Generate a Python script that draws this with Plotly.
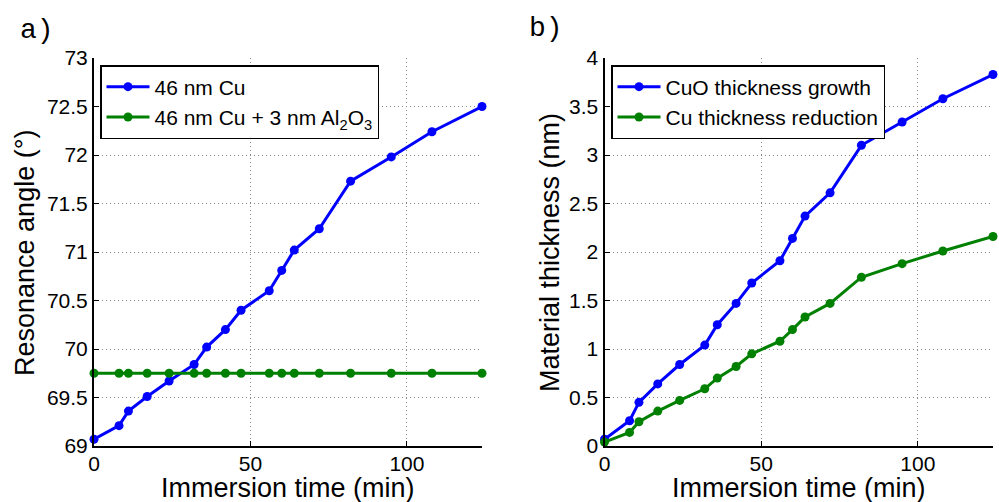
import plotly.graph_objects as go

# Data
time_min = [0, 8, 11, 17, 24, 32, 36, 42, 47, 56, 60, 64, 72, 82, 95, 108, 124]
angle_cu = [69.07, 69.21, 69.36, 69.51, 69.67, 69.84, 70.02, 70.20, 70.40, 70.60,
            70.81, 71.02, 71.24, 71.73, 71.98, 72.24, 72.50]
angle_cu_al2o3 = [69.75] * 17
cuo_growth = [0.07, 0.26, 0.45, 0.64, 0.84, 1.04, 1.25, 1.47, 1.68, 1.91,
              2.14, 2.37, 2.61, 3.10, 3.34, 3.58, 3.83]
cu_reduction = [0.04, 0.14, 0.25, 0.36, 0.47, 0.59, 0.70, 0.82, 0.95, 1.08,
                1.20, 1.33, 1.47, 1.74, 1.88, 2.01, 2.16]

names_a = ["46 nm Cu", "46 nm Cu + 3 nm Al<sub>2</sub>O<sub>3</sub>"]
names_b = ["CuO thickness growth", "Cu thickness reduction"]
x_title = "Immersion time (min)"
y_title_a = "Resonance angle (°)"
y_title_b = "Material thickness (nm)"

BLUE = "#0000FF"
GREEN = "#008000"
FONT = "Liberation Sans, Arial, sans-serif"

fig = go.Figure()

def add(x, y, name, color, xa, ya, legend):
    fig.add_trace(go.Scatter(
        x=x, y=y, name=name, mode="lines+markers",
        line=dict(color=color, width=3),
        marker=dict(color=color, size=9),
        xaxis=xa, yaxis=ya, legend=legend, cliponaxis=False))

add(time_min, angle_cu, names_a[0], BLUE, "x", "y", "legend")
add(time_min, angle_cu_al2o3, names_a[1], GREEN, "x", "y", "legend")
add(time_min, cuo_growth, names_b[0], BLUE, "x2", "y2", "legend2")
add(time_min, cu_reduction, names_b[1], GREEN, "x2", "y2", "legend2")

ytop = 1 - 58 / 502
ybot = 1 - 446 / 502

axis_common = dict(
    showline=True, linecolor="black", linewidth=2, mirror=False,
    ticks="inside", ticklen=5, tickcolor="black", tickwidth=1,
    showgrid=True, gridcolor="#888888", griddash="1px,3px", gridwidth=1,
    zeroline=False, automargin=False,
    tickfont=dict(size=21, color="black", family=FONT),
)

xa = dict(axis_common, range=[0, 124], tickvals=[0, 50, 100], ticklabelstandoff=-2)

legend_common = dict(xanchor="left", yanchor="top", bordercolor="black", borderwidth=1.5,
                     bgcolor="white", font=dict(size=21, color="black", family=FONT),
                     tracegroupgap=0, itemwidth=43)

fig.update_layout(
    width=999, height=502,
    margin=dict(l=0, r=0, t=0, b=0, pad=0),
    plot_bgcolor="white", paper_bgcolor="white",
    font=dict(family=FONT, color="black"),
    xaxis=dict(xa, domain=[94 / 999, 482 / 999], anchor="y"),
    yaxis=dict(axis_common, domain=[ybot, ytop], range=[69, 73], dtick=0.5, anchor="x"),
    xaxis2=dict(xa, domain=[604.5 / 999, 993 / 999], anchor="y2"),
    yaxis2=dict(axis_common, domain=[ybot, ytop], range=[0, 4], dtick=0.5, anchor="x2"),
    legend=dict(legend_common, x=100 / 999, y=1 - 65 / 502),
    legend2=dict(legend_common, x=611 / 999, y=1 - 65 / 502),
)

title_font = dict(size=27, color="black", family=FONT)
anns = [
    dict(text=x_title, x=288 / 999, y=1 - 488 / 502, yanchor="middle", xanchor="center", font=title_font),
    dict(text=x_title, x=799 / 999, y=1 - 488 / 502, yanchor="middle", xanchor="center", font=title_font),
    dict(text=y_title_a, x=25 / 999, y=1 - 253 / 502, textangle=-90, xanchor="center", yanchor="middle", font=title_font),
    dict(text=y_title_b, x=550 / 999, y=1 - 253 / 502, textangle=-90, xanchor="center", yanchor="middle", font=title_font),
    dict(text="a)", x=18 / 999, y=1 - 31 / 502, xanchor="left", yanchor="middle",
         font=dict(family="Liberation Mono, Courier New, monospace", size=28, color="black")),
    dict(text="b)", x=527 / 999, y=1 - 29 / 502, xanchor="left", yanchor="middle",
         font=dict(family="Liberation Mono, Courier New, monospace", size=28, color="black")),
]
for a in anns:
    fig.add_annotation(xref="paper", yref="paper", showarrow=False, **a)

fig.write_html("out.html", config={"displayModeBar": False},
               post_script="document.body.style.margin='0';document.body.style.overflow='hidden';")
